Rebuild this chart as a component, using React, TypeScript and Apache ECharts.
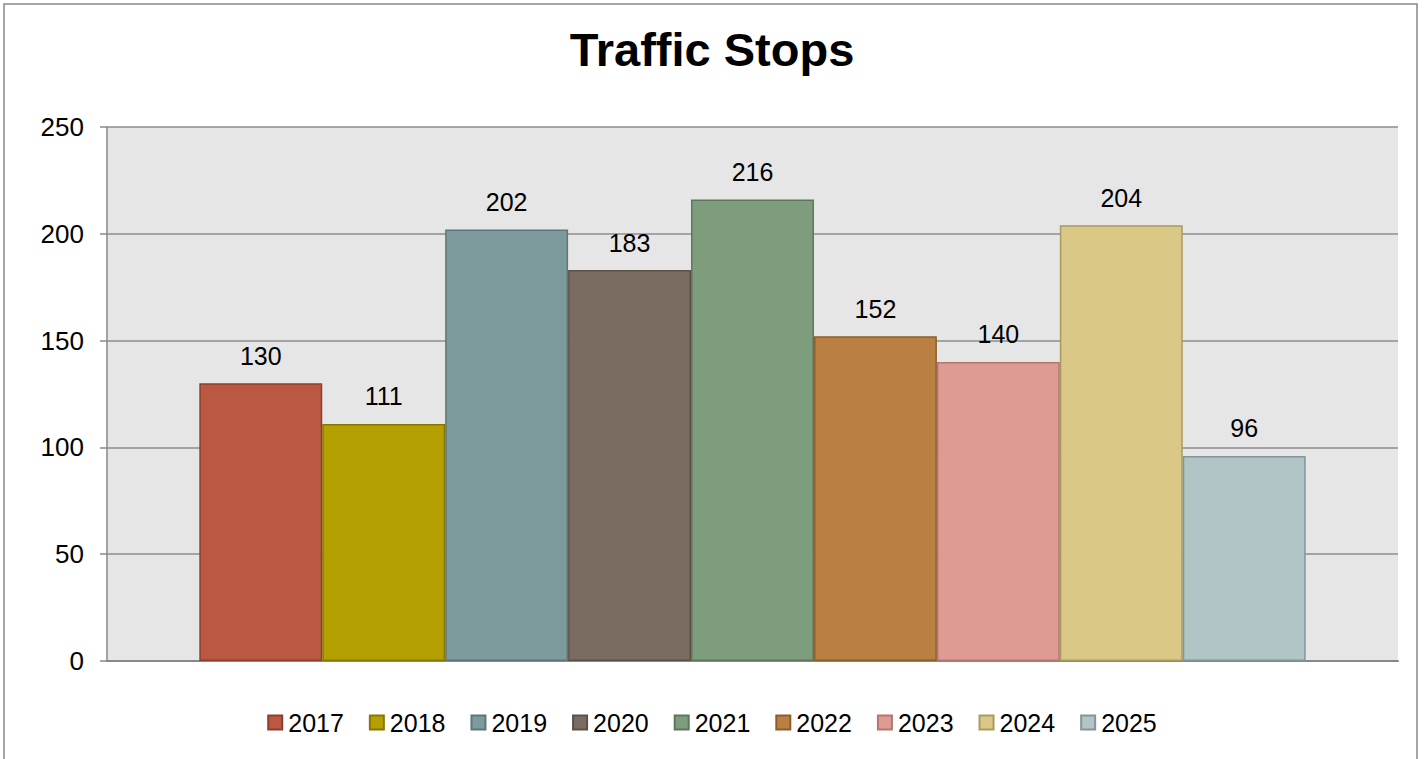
import React, { useEffect, useRef } from "react";
import * as echarts from "echarts";

const years = ["2017", "2018", "2019", "2020", "2021", "2022", "2023", "2024", "2025"];
const stops = [130, 111, 202, 183, 216, 152, 140, 204, 96];
const fills = ["#BB5841", "#B4A000", "#7D9A9C", "#7B6C61", "#7E9D7C", "#B97F43", "#DF9B93", "#DAC986", "#B1C4C6"];
const borders = ["#8E3E2C", "#877700", "#5E7677", "#5C5046", "#5E775C", "#8C5E2F", "#B3766F", "#A99B60", "#839596"];
const yTicks = { min: 0, max: 250, interval: 50 };

const FONT = "'Liberation Sans', Arial, sans-serif";

export default function App() {
  const ref = useRef<HTMLDivElement>(null);
  useEffect(() => {
    if (!ref.current) return;
    const chart = echarts.init(ref.current, undefined, { renderer: "svg" });
    chart.setOption({
      animation: false,
      backgroundColor: "#ffffff",
      textStyle: { fontFamily: FONT },
      title: {
        text: "Traffic Stops",
        left: "center",
        top: 21,
        textStyle: { fontFamily: FONT, fontSize: 47, fontWeight: "bold", color: "#000" },
      },
      graphic: [
        {
          type: "rect",
          shape: { x: 4, y: 4, width: 1413, height: 820 },
          style: { fill: "none", stroke: "#888888", lineWidth: 1.5 },
          silent: true,
        },
      ],
      legend: {
        bottom: 19,
        left: "center",
        itemWidth: 14,
        itemHeight: 14,
        itemGap: 25,
        icon: "rect",
        textStyle: { fontFamily: FONT, fontSize: 25, color: "#000", padding: [0, 0, 0, 1] },
        data: years,
      },
      grid: { left: 107, right: 26, top: 127, bottom: 98, show: true, backgroundColor: "#e6e6e6", borderWidth: 0 },
      xAxis: {
        type: "category",
        data: [""],
        axisLine: { show: true, lineStyle: { color: "#888888", width: 2 } },
        axisTick: { show: false },
        axisLabel: { show: false },
      },
      yAxis: {
        type: "value",
        min: yTicks.min,
        max: yTicks.max,
        interval: yTicks.interval,
        axisLine: { show: true, lineStyle: { color: "#888888", width: 1.5 } },
        axisTick: { show: true, length: 7, lineStyle: { color: "#888888", width: 1.5 } },
        axisLabel: { fontFamily: FONT, fontSize: 26, color: "#000", margin: 23 },
        splitLine: { show: true, lineStyle: { color: "#8c8c8c", width: 1.5 } },
      },
      series: years.map((y, i) => ({
        name: y,
        type: "bar",
        data: [stops[i]],
        barGap: "0%",
        barCategoryGap: "14.3%",
        itemStyle: { color: fills[i], borderColor: borders[i], borderWidth: 1.5 },
        label: {
          show: true,
          position: "top",
          distance: 15,
          fontFamily: FONT,
          fontSize: 25,
          color: "#000",
        },
      })),
    });
    return () => chart.dispose();
  }, []);
  return <div ref={ref} style={{ position: "fixed", left: 0, top: 0, width: 1424, height: 759 }} />;
}
